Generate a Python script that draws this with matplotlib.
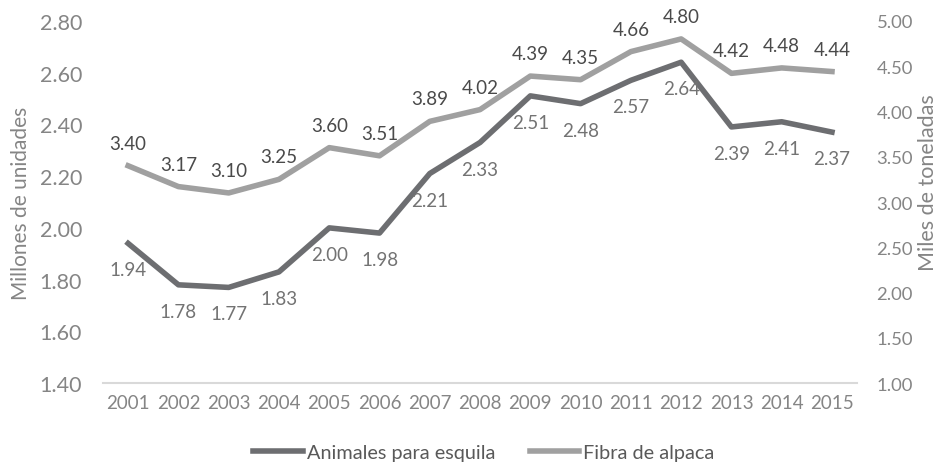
import numpy as np
import matplotlib.pyplot as plt

years = [str(y) for y in range(2001, 2016)]
animales = [1.94, 1.78, 1.77, 1.83, 2.00, 1.98, 2.21, 2.33, 2.51, 2.48, 2.57, 2.64, 2.39, 2.41, 2.37]
fibra = [3.40, 3.17, 3.10, 3.25, 3.60, 3.51, 3.89, 4.02, 4.39, 4.35, 4.66, 4.80, 4.42, 4.48, 4.44]
left_ticks = [1.40, 1.60, 1.80, 2.00, 2.20, 2.40, 2.60, 2.80]
right_ticks = [1.00, 1.50, 2.00, 2.50, 3.00, 3.50, 4.00, 4.50, 5.00]

plt.rcParams['font.family'] = ['Lato', 'DejaVu Sans']
dark = '#6d6e71'
light = '#a0a0a0'
tick_c = '#858585'

fig = plt.figure(figsize=(9.45, 4.64), dpi=100)
ax1 = fig.add_axes([0.109, 0.172, 0.798, 0.781])
ax2 = ax1.twinx()

x = np.arange(len(years))
l1, = ax1.plot(x, animales, color=dark, lw=4, zorder=3)
l2, = ax2.plot(x, fibra, color=light, lw=4, zorder=3)

for xi, v in zip(x, animales):
    ax1.annotate(f'{v:.2f}', (xi, v), xytext=(0, -13), textcoords='offset points',
                 ha='center', va='top', fontsize=13.5, color='#737373')
for xi, v in zip(x, fibra):
    ax2.annotate(f'{v:.2f}', (xi, v), xytext=(0, 10), textcoords='offset points',
                 ha='center', va='bottom', fontsize=13.5, color='#4a4a4a')

ax1.set_xlim(-0.5, len(years) - 0.5)
ax1.set_ylim(1.40, 2.80)
ax1.set_yticks(left_ticks)
ax1.set_yticklabels([f'{t:.2f}' for t in left_ticks])
ax2.set_ylim(1.00, 5.00)
ax2.set_yticks(right_ticks)
ax2.set_yticklabels([f'{t:.2f}' for t in right_ticks])
ax1.set_xticks(x)
ax1.set_xticklabels(years)

for ax in (ax1, ax2):
    for s in ax.spines.values():
        s.set_visible(False)
    ax.tick_params(length=0, colors=tick_c)
ax1.tick_params(axis='y', labelsize=15.5, pad=15)
ax1.tick_params(axis='x', labelsize=13.5, pad=8)
ax2.tick_params(axis='y', labelsize=13.3, pad=14)
ax1.spines['bottom'].set_visible(True)
ax1.spines['bottom'].set_color('#d9d9d9')
ax1.spines['bottom'].set_linewidth(1.5)

ax1.set_ylabel('Millones de unidades', fontsize=15, color=tick_c)
ax1.yaxis.set_label_coords(-0.096, 0.5)
ax2.set_ylabel('Miles de toneladas', fontsize=15.5, color=tick_c)
ax2.yaxis.set_label_coords(1.081, 0.555)

fig.legend([l1, l2], ['Animales para esquila', 'Fibra de alpaca'], loc='lower center',
           bbox_to_anchor=(0.512, -0.035), ncol=2, frameon=False, fontsize=14.3,
           labelcolor='#595959', handlelength=2.5, handletextpad=0.2, columnspacing=1.75)

fig.savefig('out.png', dpi=100)
